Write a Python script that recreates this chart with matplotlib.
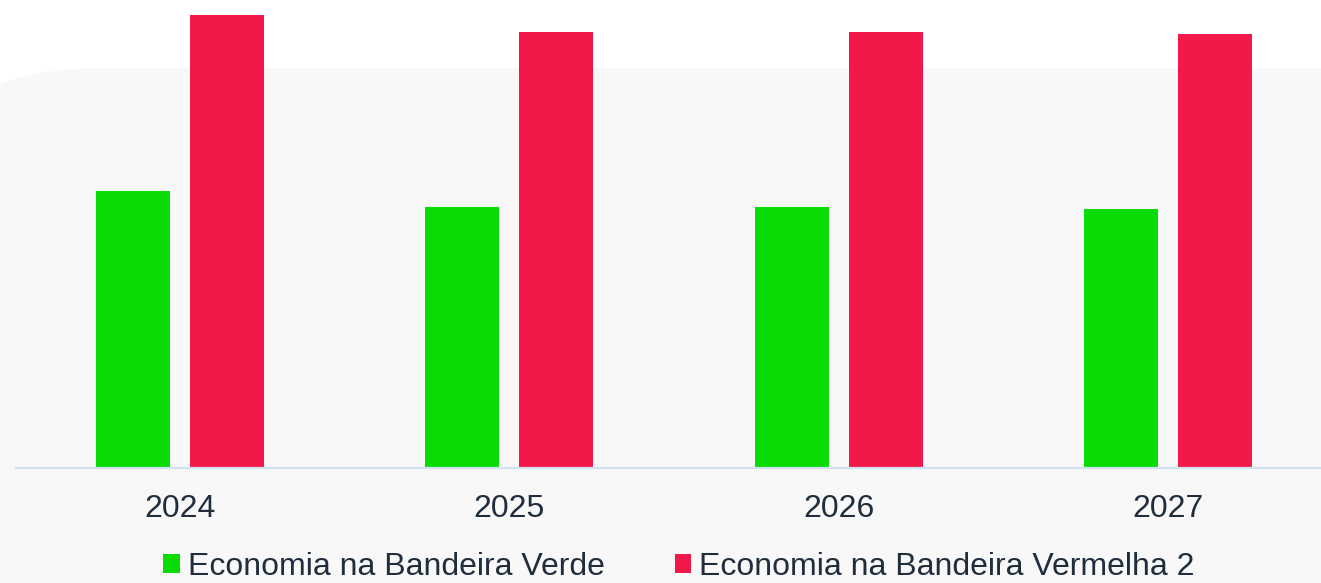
import matplotlib.pyplot as plt
import numpy as np
from matplotlib.patches import FancyBboxPatch, Patch

plt.rcParams['font.family'] = ['Liberation Sans', 'DejaVu Sans']

years = ['2024', '2025', '2026', '2027']
verde = [277, 261, 261, 259]
vermelha = [453, 436, 436, 434]

green = '#08DC04'
red = '#F2184A'
txt = '#1F2D3D'

fig = plt.figure(figsize=(13.21, 5.83), dpi=100)
fig.patch.set_facecolor('white')

# light grey card behind the chart, rounded top-left corner
bg = FancyBboxPatch((-112, -60), 1321 + 400, 515 + 60,
                    boxstyle='round,pad=0,rounding_size=212',
                    facecolor='#F8F8F8', edgecolor='none',
                    transform=None, zorder=0)
fig.add_artist(bg)

ax = fig.add_axes([16/1321, 115/583, 1 - 16/1321, 1 - 115/583])
ax.set_facecolor('none')
ax.set_zorder(2)

x = np.arange(len(years))
w = 0.2245
off = 0.1426
ax.bar(x - off, verde, width=w, color=green, label='Economia na Bandeira Verde')
ax.bar(x + off, vermelha, width=w, color=red, label='Economia na Bandeira Vermelha 2')

ax.set_xlim(-0.4976, 3.463)
ax.set_ylim(0, 468)

for s in ['top', 'right', 'left']:
    ax.spines[s].set_visible(False)
ax.spines['bottom'].set_color('#CFE2EE')
ax.spines['bottom'].set_linewidth(1.6)
ax.set_yticks([])
ax.set_xticks(x)
ax.set_xticklabels(years, fontsize=23, color=txt)
ax.tick_params(axis='x', length=0, pad=19)

handles = [Patch(facecolor=green, label='Economia na Bandeira Verde'),
           Patch(facecolor=red, label='Economia na Bandeira Vermelha 2')]
leg = fig.legend(handles=handles, loc='center', bbox_to_anchor=(0.514, 0.028),
                 ncol=2, frameon=False, fontsize=23,
                 handlelength=0.52, handleheight=0.52, handletextpad=0.25,
                 columnspacing=2.2, borderpad=0)
for t in leg.get_texts():
    t.set_color(txt)

fig.savefig('out.png', dpi=100)
